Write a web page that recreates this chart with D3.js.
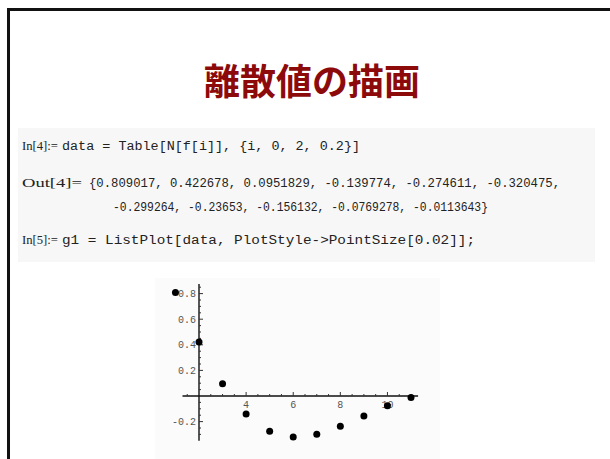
<!DOCTYPE html>
<html>
<head>
<meta charset="utf-8">
<script src="https://cdn.jsdelivr.net/npm/d3@7"></script>
<style>
  html, body { margin: 0; padding: 0; background: #fff; }
  svg { display: block; }
</style>
</head>
<body>
<svg id="slide" width="610" height="459"></svg>
<script>
// Slide content
const slideTitle = "離散値の描画";
const codeLabels = ["In[4]:=", "Out[4]=", "", "In[5]:="];
const codeTexts = [
  "data = Table[N[f[i]], {i, 0, 2, 0.2}]",
  "{0.809017, 0.422678, 0.0951829, -0.139774, -0.274611, -0.320475,",
  "-0.299264, -0.23653, -0.156132, -0.0769278, -0.0113643}",
  "g1 = ListPlot[data, PlotStyle->PointSize[0.02]];"
];

// ListPlot data (index 1..11)
const dataValues = [0.809017, 0.422678, 0.0951829, -0.139774, -0.274611, -0.320475,
                    -0.299264, -0.23653, -0.156132, -0.0769278, -0.0113643];
const xTickLabels = [4, 6, 8, 10];
const yTickLabels = [-0.2, 0.2, 0.4, 0.6, 0.8];

const svg = d3.select("#slide");

// Slide frame (top and left edges visible)
svg.append("rect").attr("x", 7).attr("y", 8).attr("width", 3).attr("height", 451).attr("fill", "#111");
svg.append("rect").attr("x", 7).attr("y", 8).attr("width", 603).attr("height", 3).attr("fill", "#111");

// Title
svg.append("text")
  .attr("x", 312).attr("y", 95)
  .attr("text-anchor", "middle")
  .attr("font-family", "'Noto Sans CJK JP', sans-serif")
  .attr("font-weight", 700)
  .attr("font-size", 36)
  .attr("fill", "#8c0a0a")
  .text(slideTitle);

// Notebook panel
svg.append("rect").attr("x", 18).attr("y", 128).attr("width", 577).attr("height", 134).attr("fill", "#f7f7f7");

// Cell layout: baseline, label span, code span
const lineY = [150, 187, 211, 244];
const labelSpan = [36, 60, 0, 36];
const codeStart = [62, 89, 113, 62];
const codeSpan = [298, 471, 375, 413];

codeTexts.forEach((txt, i) => {
  if (codeLabels[i]) {
    svg.append("text")
      .attr("x", 22).attr("y", lineY[i])
      .attr("font-family", "'Liberation Serif', serif")
      .attr("font-size", 13.5)
      .attr("fill", "#222")
      .attr("textLength", labelSpan[i])
      .attr("lengthAdjust", "spacingAndGlyphs")
      .text(codeLabels[i]);
  }
  svg.append("text")
    .attr("x", codeStart[i]).attr("y", lineY[i])
    .attr("font-family", "'Liberation Mono', monospace")
    .attr("font-size", 12)
    .attr("fill", "#222")
    .attr("textLength", codeSpan[i])
    .attr("lengthAdjust", "spacingAndGlyphs")
    .text(txt);
});

// Plot background
svg.append("rect").attr("x", 155).attr("y", 278).attr("width", 285).attr("height", 181).attr("fill", "#fbfbfb");

// Scales: the axes cross at x = 2, y = 0
const x = d3.scaleLinear().domain([2, 11]).range([199, 411]);
const y = d3.scaleLinear().domain([0, 0.8]).range([396, 293.6]);

const g = svg.append("g");

// Axes lines
g.append("line").attr("x1", x(1.3)).attr("x2", x(11.3)).attr("y1", y(0)).attr("y2", y(0))
  .attr("stroke", "#111").attr("stroke-width", 1.4);
g.append("line").attr("x1", x(2)).attr("x2", x(2)).attr("y1", y(-0.35)).attr("y2", y(0.875))
  .attr("stroke", "#111").attr("stroke-width", 1.4);

// X ticks: major every 2, minor every 0.5
d3.range(1.5, 11.01, 0.5).forEach(v => {
  if (Math.abs(v - 2) < 1e-9) return;
  const major = Math.abs(v / 2 - Math.round(v / 2)) < 1e-9;
  g.append("line").attr("x1", x(v)).attr("x2", x(v))
    .attr("y1", y(0)).attr("y2", y(0) - (major ? 4 : 2))
    .attr("stroke", "#333").attr("stroke-width", 1);
});
// Y ticks: major every 0.2, minor every 0.05
d3.range(-0.3, 0.851, 0.05).forEach(v => {
  if (Math.abs(v) < 1e-9) return;
  const major = Math.abs(v / 0.2 - Math.round(v / 0.2)) < 1e-6;
  g.append("line").attr("x1", x(2)).attr("x2", x(2) + (major ? 4 : 2))
    .attr("y1", y(v)).attr("y2", y(v))
    .attr("stroke", "#333").attr("stroke-width", 1);
});

// Tick labels
g.selectAll(".xl").data(xTickLabels).join("text")
  .attr("x", d => x(d)).attr("y", y(0) + 12)
  .attr("text-anchor", "middle")
  .attr("font-family", "'Liberation Mono', monospace")
  .attr("font-size", 10)
  .attr("fill", "#555")
  .text(d => d);
g.selectAll(".yl").data(yTickLabels).join("text")
  .attr("x", x(2) - 3).attr("y", d => y(d) + 3.5)
  .attr("text-anchor", "end")
  .attr("font-family", "'Liberation Mono', monospace")
  .attr("font-size", 10)
  .attr("fill", "#555")
  .text(d => d.toFixed(1));

// Points
g.selectAll("circle").data(dataValues).join("circle")
  .attr("cx", (d, i) => x(i + 1))
  .attr("cy", d => y(d))
  .attr("r", 3.5)
  .attr("fill", "#000");
</script>
</body>
</html>
